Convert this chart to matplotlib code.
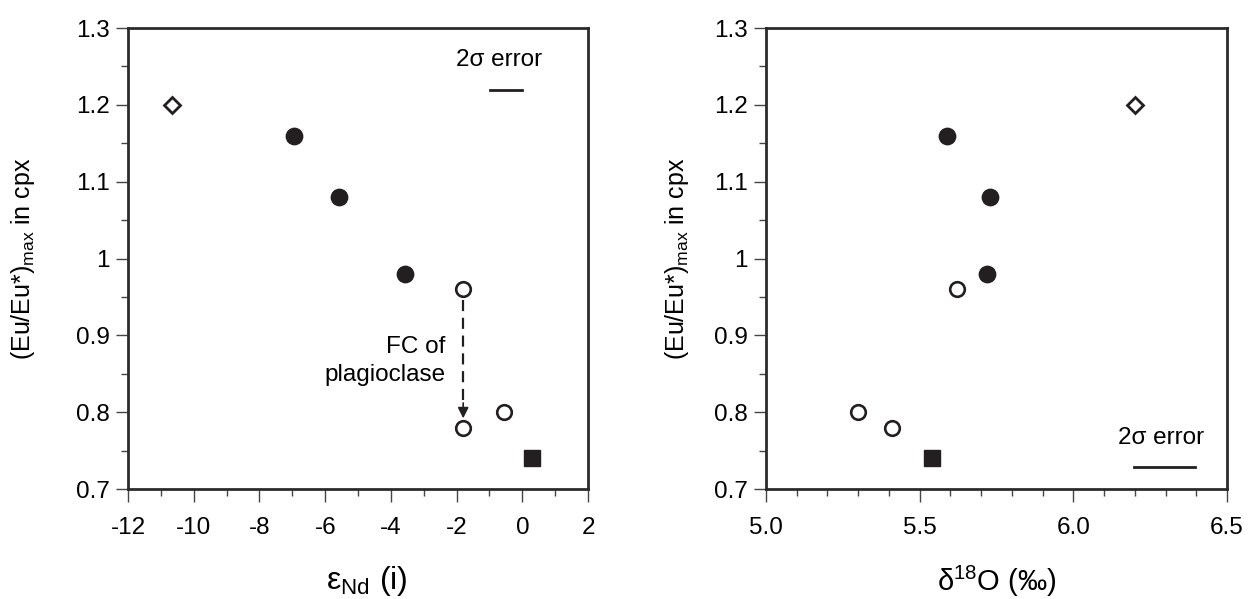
import numpy as np
import matplotlib.pyplot as plt

plt.rcParams['font.family'] = ['Liberation Sans', 'DejaVu Sans']
plt.rcParams['axes.unicode_minus'] = False

# Eu/Eu* max in cpx
eu_diamond = [1.20]
eu_filled = [1.16, 1.08, 0.98]
eu_open = [0.96, 0.78, 0.80]
eu_square = [0.74]

# eNd(i)
nd_diamond = [-10.65]
nd_filled = [-6.95, -5.58, -3.57]
nd_open = [-1.80, -1.80, -0.56]
nd_square = [0.29]

# d18O
o_diamond = [6.20]
o_filled = [5.59, 5.73, 5.72]
o_open = [5.62, 5.41, 5.30]
o_square = [5.54]

ink = '#231f20'

fig = plt.figure(figsize=(12.48, 5.99), dpi=100)
ax1 = fig.add_axes([0.1026, 0.1836, 0.3686, 0.7696])
ax2 = fig.add_axes([0.6138, 0.1836, 0.3694, 0.7696])


def draw(ax, xd, xf, xo, xs):
    ax.plot(xd, eu_diamond, 'D', ms=8.3, mfc='white', mec=ink, mew=2, ls='none')
    ax.plot(xf, eu_filled, 'o', ms=11.8, mfc=ink, mec=ink, ls='none')
    ax.plot(xo, eu_open, 'o', ms=10.5, mfc='white', mec=ink, mew=1.9, ls='none')
    ax.plot(xs, eu_square, 's', ms=11.8, mfc=ink, mec=ink, ls='none')
    ax.set_ylim(0.7, 1.3)
    ax.set_yticks([0.7, 0.8, 0.9, 1.0, 1.1, 1.2, 1.3])
    ax.set_yticklabels(['0.7', '0.8', '0.9', '1', '1.1', '1.2', '1.3'])
    ax.set_yticks(np.arange(0.75, 1.3, 0.1), minor=True)
    ax.tick_params(which='both', direction='out', labelsize=17.5, width=1,
                   color='#444')
    ax.tick_params(which='major', length=9)
    ax.tick_params(which='minor', length=5)
    ax.tick_params(axis='x', which='major', pad=11)
    ax.tick_params(axis='y', which='major', pad=4)
    for s in ax.spines.values():
        s.set_linewidth(2)
        s.set_color('#2b2b2b')
    ax.set_ylabel('(Eu/Eu*)$_{\\mathregular{max}}$ in cpx', fontsize=18)
    ax.yaxis.label.set_va('center')


draw(ax1, nd_diamond, nd_filled, nd_open, nd_square)
ax1.set_xlim(-12, 2)
ax1.set_xticks(np.arange(-12, 3, 2))
ax1.set_xticks(np.arange(-11, 2, 2), minor=True)
ax1.set_xlabel('ε$_{\\mathregular{Nd}}$ (i)', fontsize=23)
ax1.xaxis.set_label_coords(0.52, -0.2)
ax1.xaxis.label.set_va('center')
ax1.yaxis.set_label_coords(-0.228, 0.5)
ax1.text(-0.7, 1.258, '2σ error', fontsize=17.5, ha='center', va='center')
ax1.plot([-0.97, 0.0], [1.219, 1.219], color=ink, lw=2)
ax1.plot([-1.8, -1.8], [0.946, 0.81], color=ink, lw=1.6, ls=(0, (5, 3)))
ax1.annotate('', xy=(-1.8, 0.792), xytext=(-1.8, 0.812),
             arrowprops=dict(arrowstyle='-|>', color=ink, lw=1.2,
                             mutation_scale=16, shrinkA=0, shrinkB=0))
ax1.text(-2.34, 0.867, 'FC of\nplagioclase', fontsize=17.5, ha='right',
         va='center', multialignment='right', linespacing=1.35)

draw(ax2, o_diamond, o_filled, o_open, o_square)
ax2.set_xlim(5.0, 6.5)
ax2.set_xticks([5.0, 5.5, 6.0, 6.5])
ax2.set_xticklabels(['5.0', '5.5', '6.0', '6.5'])
ax2.set_xticks(np.arange(5.1, 6.5, 0.1), minor=True)
ax2.set_xlabel('δ$^{\\mathregular{18}}$O (‰)', fontsize=21)
ax2.xaxis.set_label_coords(0.5, -0.2)
ax2.xaxis.label.set_va('center')
ax2.yaxis.set_label_coords(-0.193, 0.5)
ax2.text(6.285, 0.766, '2σ error', fontsize=17.5, ha='center', va='center')
ax2.plot([6.197, 6.396], [0.729, 0.729], color=ink, lw=2)

fig.savefig('out.png', dpi=100)
